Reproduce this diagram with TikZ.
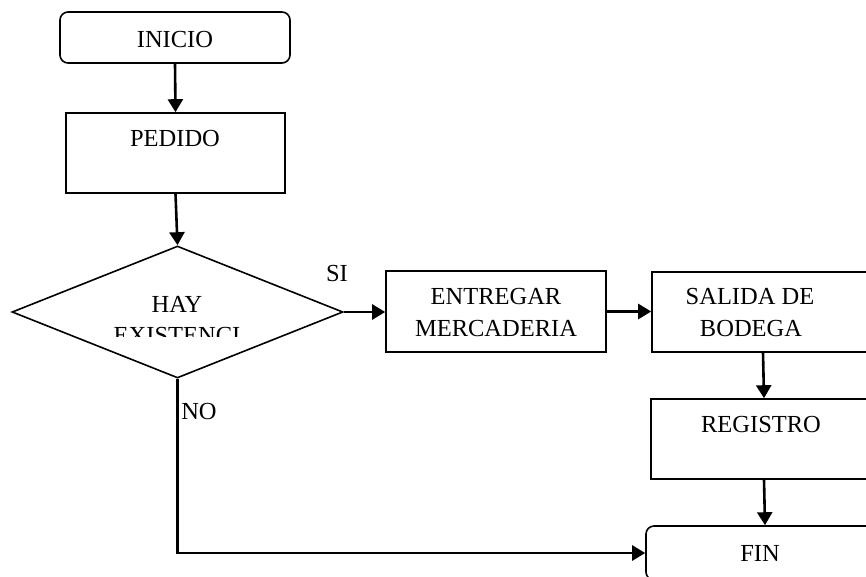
\documentclass[tikz,border=0pt]{standalone}
\usepackage{fontspec}
\setmainfont{Liberation Serif}
\usetikzlibrary{shapes.geometric,arrows.meta}
\begin{document}
\begin{tikzpicture}[x=1pt,y=-1pt,
  boxline/.style={draw,line width=1.6pt,inner sep=0pt},
  procbox/.style={boxline,rectangle},
  termbox/.style={boxline,rectangle,rounded corners=8pt},
  decbox/.style={boxline,diamond},
  lbl/.style={anchor=base,inner sep=0pt,font=\fontsize{24.5}{31}\selectfont},
  flow/.style={line width=2.6pt,-{Triangle[length=13pt,width=15pt]}},
  plain/.style={line width=2.6pt}]
\useasboundingbox (0,0) rectangle (866,576);
\clip (0,0) rectangle (866,576);

% process boxes and terminals
\node[termbox,minimum width=230pt,minimum height=51pt] (inicio) at (175,37.5) {};
\node[procbox,minimum width=219pt,minimum height=80pt] (pedido) at (175.5,153) {};
\node[decbox,minimum width=331pt,minimum height=132pt] (dia) at (177.5,312) {};
\node[procbox,minimum width=220pt,minimum height=81pt] (entregar) at (496,311.5) {};
\node[procbox,minimum width=222pt,minimum height=80pt] (salida) at (763,312) {};
\node[procbox,minimum width=226pt,minimum height=80pt] (registro) at (764,439) {};
\node[termbox,minimum width=238pt,minimum height=54pt] (fin) at (765,553) {};

% texts
\node[lbl] (tinicio) at (175,47) {INICIO};
\node[lbl] (tpedido) at (175,146) {PEDIDO};
\node[lbl] (thay) at (177,312) {HAY};
\begin{scope}
  \clip (100,300) rectangle (260,336);
  \node[lbl] (texist) at (177,343) {EXISTENCI};
\end{scope}
\node[lbl] (tsi) at (337,281) {SI};
\node[lbl] (tno) at (199,419) {NO};
\node[lbl] (tent1) at (496,304) {ENTREGAR};
\node[lbl] (tent2) at (496,336) {MERCADERIA};
\node[lbl] (tsal1) at (750,304) {SALIDA DE};
\node[lbl] (tsal2) at (751,336) {BODEGA};
\node[lbl] (treg) at (761,432) {REGISTRO};
\node[lbl] (tfin) at (760,561) {FIN};

% connectors
\draw[flow] (inicio.south) -- (pedido.north);
\draw[flow] (pedido.south) -- (dia.north);
\draw[flow] (dia.east) -- (dia.east -| entregar.west);
\draw[flow] (entregar.east) -- (entregar.east -| salida.west);
\draw[flow] (salida.south) -- (registro.north);
\draw[flow] (registro.south) -- (fin.north);
\draw[flow] (dia.south) |- (fin.west);
\end{tikzpicture}
\end{document}
